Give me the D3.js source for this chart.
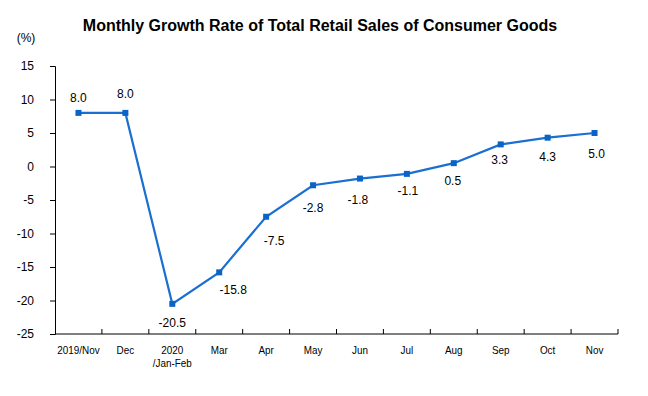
<!DOCTYPE html>
<html>
<head>
<meta charset="utf-8">
<script src="https://cdn.jsdelivr.net/npm/d3@7"></script>
<style>
  body { margin: 0; background: #fff; }
  svg text { font-family: Arial, "Liberation Sans", sans-serif; }
</style>
</head>
<body>
<script>
  const months = ['2019/Nov', 'Dec', '2020\n/Jan-Feb', 'Mar', 'Apr', 'May', 'Jun', 'Jul', 'Aug', 'Sep', 'Oct', 'Nov'];
  const growth = [8.0, 8.0, -20.5, -15.8, -7.5, -2.8, -1.8, -1.1, 0.5, 3.3, 4.3, 5.0];
  const yTicks = [15, 10, 5, 0, -5, -10, -15, -20, -25];

  // where each value label sits relative to its point: [dx, dy]
  const labelPos = [[0, -11], [0, -15], [0, 23], [14, 22], [8, 28], [0, 27], [-2, 25], [1, 21], [-1, 22], [-1, 20], [0, 23], [2, 25]];

  const margin = { top: 66, right: 30, bottom: 62, left: 55 };
  const width = 648 - margin.left - margin.right;
  const height = 396 - margin.top - margin.bottom;

  // plain hyphen for negatives, like the original
  const fmt1 = d => d.toFixed(1);

  const svg = d3.select('body').append('svg')
    .attr('width', 648)
    .attr('height', 396);

  svg.append('text')
    .attr('x', 320)
    .attr('y', 31)
    .attr('text-anchor', 'middle')
    .attr('font-size', '16px')
    .attr('font-weight', 'bold')
    .text('Monthly Growth Rate of Total Retail Sales of Consumer Goods');

  svg.append('text')
    .attr('x', 26)
    .attr('y', 42)
    .attr('text-anchor', 'middle')
    .attr('font-size', '12px')
    .text('(%)');

  const g = svg.append('g')
    .attr('transform', `translate(${margin.left}, ${margin.top})`);

  const x = d3.scaleBand()
    .domain(months)
    .range([0, width]);

  const y = d3.scaleLinear()
    .domain([-25, 15])
    .range([height, 0]);

  // y axis
  const yAxis = g.append('g')
    .call(d3.axisLeft(y).tickValues(yTicks).tickSize(5).tickPadding(16).tickFormat(d => String(d)));
  yAxis.select('.domain').attr('stroke', '#000');
  yAxis.selectAll('text').attr('font-size', '12px').attr('font-family', 'Arial, "Liberation Sans", sans-serif');

  // x axis, ticks on band edges pointing up
  const xa = g.append('g')
    .attr('transform', `translate(0, ${height})`);
  xa.append('line')
    .attr('x1', 0).attr('x2', width)
    .attr('y1', 0).attr('y2', 0)
    .attr('stroke', '#000');
  xa.selectAll('.edge')
    .data(months)
    .enter().append('line')
      .attr('x1', d => x(d) + x.bandwidth())
      .attr('x2', d => x(d) + x.bandwidth())
      .attr('y1', 0).attr('y2', -5)
      .attr('stroke', '#000');
  const xl = xa.selectAll('.lab')
    .data(months)
    .enter().append('text')
      .attr('x', d => x(d) + x.bandwidth() / 2)
      .attr('y', 20)
      .attr('text-anchor', 'middle')
      .attr('font-size', '11px')
      .attr('transform', d => `translate(${x(d) + x.bandwidth() / 2}, 0) scale(0.9, 1) translate(${-(x(d) + x.bandwidth() / 2)}, 0)`);
  xl.selectAll('tspan')
    .data(d => d.split('\n'))
    .enter().append('tspan')
      .attr('x', function() { return this.parentNode.getAttribute('x'); })
      .attr('dy', (d, i) => i === 0 ? 0 : 13)
      .text(d => d);

  const line = d3.line()
    .x((d, i) => x(months[i]) + x.bandwidth() / 2)
    .y(d => y(d));

  g.append('path')
    .datum(growth)
    .attr('fill', 'none')
    .attr('stroke', '#1a6fd0')
    .attr('stroke-width', 2.2)
    .attr('d', line);

  g.selectAll('.pt')
    .data(growth)
    .enter().append('rect')
      .attr('x', (d, i) => x(months[i]) + x.bandwidth() / 2 - 3)
      .attr('y', d => y(d) - 3)
      .attr('width', 6)
      .attr('height', 6)
      .attr('fill', '#0a64c8');

  g.selectAll('.val')
    .data(growth)
    .enter().append('text')
      .attr('x', (d, i) => x(months[i]) + x.bandwidth() / 2 + labelPos[i][0])
      .attr('y', (d, i) => y(d) + labelPos[i][1])
      .attr('text-anchor', 'middle')
      .attr('font-size', '12px')
      .text(fmt1);
</script>
</body>
</html>
